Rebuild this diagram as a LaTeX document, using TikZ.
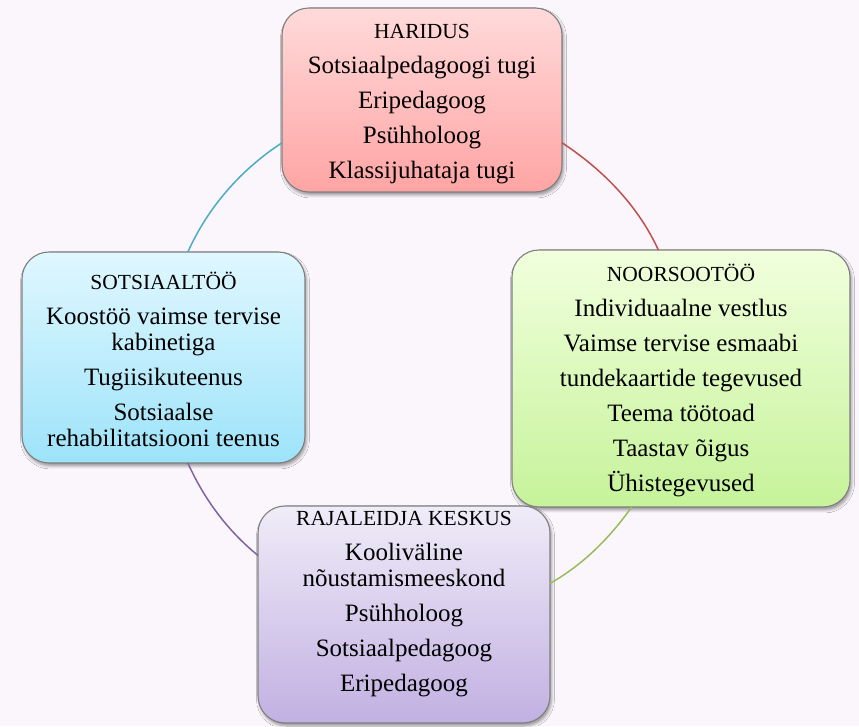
\documentclass[tikz,border=0pt]{standalone}
\usepackage{fontspec}
\setmainfont{Liberation Serif}
\usetikzlibrary{shadows.blur}

\definecolor{bgpage}{HTML}{FAF6FC}
\definecolor{edge}{HTML}{7F7F7F}
\definecolor{redtop}{HTML}{FFDADA}
\definecolor{redbot}{HTML}{FFA4A4}
\definecolor{greentop}{HTML}{F1FFDD}
\definecolor{greenbot}{HTML}{C6F39A}
\definecolor{aquatop}{HTML}{E0F7FF}
\definecolor{aquabot}{HTML}{9DE3FA}
\definecolor{violettop}{HTML}{F0ECF8}
\definecolor{violetbot}{HTML}{C1B0E2}
\definecolor{linkaqua}{HTML}{4BACC6}
\definecolor{linkred}{HTML}{C0504D}
\definecolor{linkgreen}{HTML}{9BBB59}
\definecolor{linkviolet}{HTML}{8064A2}

% headings are set a little smaller than the items below them
\newcommand{\areahead}[1]{{\fontsize{21.5}{26}\selectfont #1}}

\tikzset{
  area/.style={rectangle, rounded corners=27pt, draw=edge, line width=1.1pt,
    inner sep=0pt, outer sep=0pt,
    blur shadow={shadow xshift=1.5pt, shadow yshift=-3pt,
      shadow blur radius=3pt, shadow opacity=40}},
  areatext/.style={align=center, inner sep=0pt,
    font=\fontsize{25}{26}\selectfont},
  link/.style={line width=1.5pt, looseness=0.87},
}

\begin{document}
\begin{tikzpicture}[x=1pt, y=1pt]
  \fill[bgpage] (0,0) rectangle (859,726);
  \useasboundingbox (0,0) rectangle (859,726);

  % the four service areas
  \node[area, top color=redtop, bottom color=redbot,
        minimum width=280pt, minimum height=184pt] (haridus) at (422,626) {};
  \node[area, top color=greentop, bottom color=greenbot,
        minimum width=338pt, minimum height=257pt] (noorsoo) at (681,347.5) {};
  \node[area, top color=aquatop, bottom color=aquabot,
        minimum width=283pt, minimum height=211pt] (sotsiaal) at (163.5,368.5) {};
  \node[area, top color=violettop, bottom color=violetbot,
        minimum width=292pt, minimum height=217pt] (rajaleidja) at (404,111.5) {};

  % texts of the areas
  \node[areatext] (haridustxt) at (422,622) {\areahead{HARIDUS}\\[9pt]
    Sotsiaalpedagoogi tugi\\[9pt] Eripedagoog\\[9pt] Psühholoog\\[9pt]
    Klassijuhataja tugi};
  \node[areatext] (noorsootxt) at (681,346) {\areahead{NOORSOOTÖÖ}\\[9pt]
    Individuaalne vestlus\\[9pt] Vaimse tervise esmaabi\\[9pt]
    tundekaartide tegevused\\[9pt] Teema töötoad\\[9pt]
    Taastav õigus\\[9pt] Ühistegevused};
  \node[areatext] (sotsiaaltxt) at (163.5,367) {\areahead{SOTSIAALTÖÖ}\\[9pt]
    Koostöö vaimse tervise\\ kabinetiga\\[9pt] Tugiisikuteenus\\[9pt]
    Sotsiaalse\\ rehabilitatsiooni teenus};
  \node[areatext] (rajaleidjatxt) at (404,121.5) {\areahead{RAJALEIDJA KESKUS}\\[9pt]
    Kooliväline\\ nõustamismeeskond\\[9pt] Psühholoog\\[9pt]
    Sotsiaalpedagoog\\[9pt] Eripedagoog};

  % circular links between the areas
  \draw[link, linkaqua] (haridus.197.1) to[out=213.1, in=65.8] (sotsiaal.77.4);
  \draw[link, linkred] (haridus.-17) to[out=-33.3, in=114.6] (noorsoo.100.6);
  \draw[link, linkgreen] (noorsoo.249.5) to[out=-125.3, in=29.7] (rajaleidja.12.5);
  \draw[link, linkviolet] (sotsiaal.-77.4) to[out=-65.8, in=140.7] (rajaleidja.158.9);
\end{tikzpicture}
\end{document}
